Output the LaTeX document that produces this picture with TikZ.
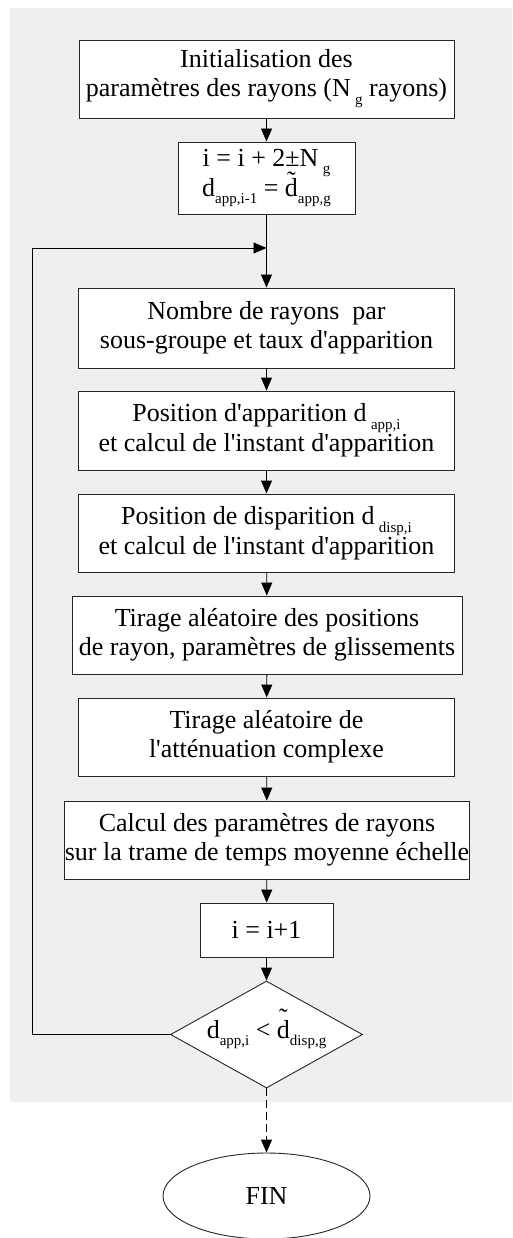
\documentclass[tikz,border=0pt]{standalone}
\usepackage{fontspec}
\setmainfont{Liberation Serif}[Ligatures=TeXOff]
\usetikzlibrary{arrows.meta,shapes.geometric}
\definecolor{bgcol}{HTML}{EFEFEF}
\newcommand\sbs[1]{\raisebox{-0.3em}{\fontsize{15}{15}\selectfont #1}}
\newcommand\dtil[1][0.25em]{\ooalign{d\cr\hidewidth\raisebox{#1}{\char"02DC}\hidewidth\cr}}
\begin{document}
\begin{tikzpicture}[x=1pt,y=-1pt,
  box/.style={draw=black!85, line width=0.9pt, fill=white, rectangle, inner sep=0pt, align=center, font=\fontsize{26}{29}\selectfont},
  conn/.style={draw=black, line width=0.9pt, -{Triangle[length=13pt,width=11pt]}},
  dconn/.style={conn, dash pattern=on 8pt off 4pt}]
\useasboundingbox (0,0) rectangle (512,1238);
\fill[bgcol] (10,8) rectangle (512,1102);
\node[box, minimum width=375pt, minimum height=78pt] (b1) at (266.5,79) {Initialisation des\\paramètres des rayons (N\,\sbs{g} rayons)};
\node[box, minimum width=177pt, minimum height=72pt] (b2) at (266.5,178) {i = i + 2±N\,\sbs{g}\\d\sbs{app,i-1} = \dtil\sbs{app,g}};
\node[box, minimum width=376pt, minimum height=80pt] (b3) at (266.5,328) {Nombre de rayons\ \ par\\sous-groupe et taux d'apparition};
\node[box, minimum width=376pt, minimum height=79pt] (b4) at (266.5,430.5) {Position d'apparition d\,\sbs{app,i}\\et calcul de l'instant d'apparition};
\node[box, minimum width=376pt, minimum height=78pt] (b5) at (266.5,533) {Position de disparition d\,\sbs{disp,i}\\et calcul de l'instant d'apparition};
\node[box, minimum width=390pt, minimum height=78pt] (b6) at (267,635) {Tirage aléatoire des positions\\de rayon, paramètres de glissements};
\node[box, minimum width=376pt, minimum height=78pt] (b7) at (266.5,737) {Tirage aléatoire de\\l'atténuation complexe};
\node[box, minimum width=400pt, minimum height=78pt] (b8) at (267,840) {Calcul des paramètres de rayons\\sur la trame de temps moyenne échelle};
\node[box, minimum width=133pt, minimum height=54pt] (b9) at (266.5,930) {i = i+1};
\node[box, diamond, aspect=1.8, minimum width=192pt, minimum height=107pt] (dia) at (266.5,1034.5) {d\sbs{app,i} < \dtil[0.45em]\sbs{disp,g}};
\node[box, ellipse, minimum width=207pt, minimum height=86pt] (fin) at (266.5,1196) {FIN};
\coordinate (join) at (266.5,248);
\draw[conn] (b1) -- (b2);
\draw[conn] (b2) -- (b3);
\draw[conn] (b3) -- (b4);
\draw[conn] (b4) -- (b5);
\draw[conn] (b5) -- (b6);
\draw[conn] (b6) -- (b7);
\draw[conn] (b7) -- (b8);
\draw[conn] (b8) -- (b9);
\draw[conn] (b9) -- (dia);
\draw[conn] (dia.west) -- ++(-138,0) |- (join);
\draw[dconn] (dia.south) -- (fin.north);
\end{tikzpicture}
\end{document}
